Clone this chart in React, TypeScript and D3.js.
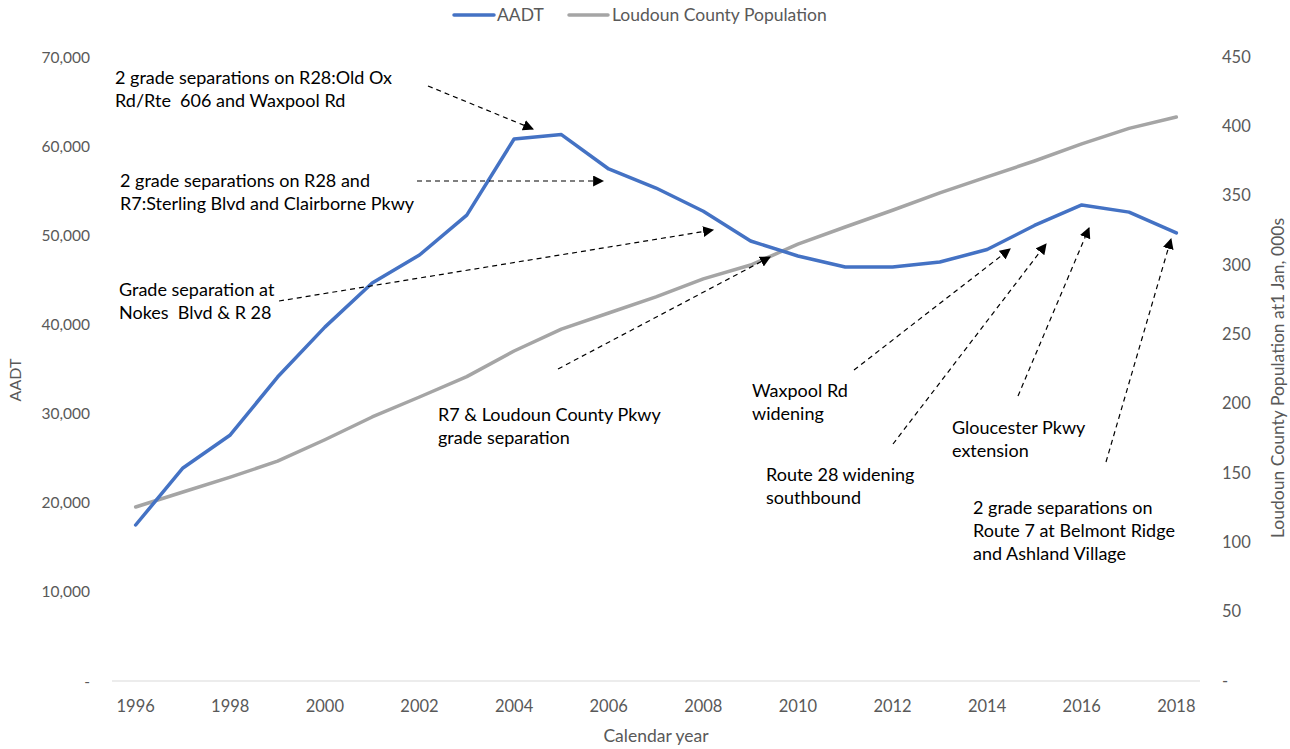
import React from "react";
import * as d3 from "d3";

const years = [1996,1997,1998,1999,2000,2001,2002,2003,2004,2005,2006,2007,2008,2009,2010,2011,2012,2013,2014,2015,2016,2017,2018];
const aadt = [17500,23900,27600,34100,39700,44650,47790,52270,60800,61300,57440,55300,52700,49360,47680,46440,46440,47000,48400,51100,53400,52600,50260];
const population = [125.5,136.3,147,158.5,174,190.4,204.8,219.5,238,253.8,265.4,277,290,300,315,327.4,339.5,352,363.5,375,387.3,398.5,406.7];
const leftTicks = [0,10000,20000,30000,40000,50000,60000,70000];
const rightTicks = [0,50,100,150,200,250,300,350,400,450];
const xTickYears = [1996,1998,2000,2002,2004,2006,2008,2010,2012,2014,2016,2018];

type Note = { lines: string[]; tx: number; ty: number; from: [number, number]; to: [number, number] };
const notes: Note[] = [
  { lines: ["2 grade separations on R28:Old Ox", "Rd/Rte  606 and Waxpool Rd"], tx: 115, ty: 84, from: [428, 86], to: [533, 129] },
  { lines: ["2 grade separations on R28 and", "R7:Sterling Blvd and Clairborne Pkwy"], tx: 120, ty: 187, from: [417, 181], to: [603, 181] },
  { lines: ["Grade separation at", "Nokes  Blvd & R 28"], tx: 119, ty: 296, from: [279, 301], to: [713, 230] },
  { lines: ["R7 & Loudoun County Pkwy", "grade separation"], tx: 438, ty: 421, from: [558, 369], to: [770, 257] },
  { lines: ["Waxpool Rd", "widening"], tx: 752, ty: 397, from: [854, 370], to: [1010, 249] },
  { lines: ["Route 28 widening", "southbound"], tx: 766, ty: 481, from: [893, 444], to: [1046, 244] },
  { lines: ["Gloucester Pkwy", "extension"], tx: 952, ty: 434, from: [1018, 396], to: [1089, 228] },
  { lines: ["2 grade separations on", "Route 7 at Belmont Ridge", "and Ashland Village"], tx: 973, ty: 514, from: [1106, 462], to: [1171, 239] },
];

const W = 1290, H = 749;
const plotLeft = 112, plotRight = 1200, plotTop = 57, plotBottom = 681;
const FONT = "Lato, 'Noto Sans', sans-serif";

export default function App() {
  const x = d3.scalePoint<number>().domain(years).range([plotLeft, plotRight]).padding(0.5);
  const yL = d3.scaleLinear().domain([0, 70000]).range([plotBottom, plotTop]);
  const yR = d3.scaleLinear().domain([0, 450]).range([plotBottom, plotTop]);
  const fmt = d3.format(",");

  const lineA = d3.line<number>().x((_, i) => x(years[i])!).y((d) => yL(d));
  const lineP = d3.line<number>().x((_, i) => x(years[i])!).y((d) => yR(d));

  return (
    <svg width={W} height={H} style={{ position: "absolute", left: 0, top: 0, background: "#fff" }} fontFamily={FONT}>
      <defs>
        <marker id="arrow" viewBox="0 0 10 10" refX="9" refY="5" markerWidth="11" markerHeight="11" markerUnits="userSpaceOnUse" orient="auto">
          <path d="M0,0 L10,5 L0,10 z" fill="#000" />
        </marker>
      </defs>
      {/* legend */}
      <g>
        <line x1={454} x2={494} y1={15} y2={15} stroke="#4472C4" strokeWidth={3.5} strokeLinecap="round" />
        <text x={497} y={21} fontSize={17.5} fill="#595959">AADT</text>
        <line x1={569} x2={608} y1={15} y2={15} stroke="#A5A5A5" strokeWidth={3.5} strokeLinecap="round" />
        <text x={612} y={21} fontSize={17.5} fill="#595959">Loudoun County Population</text>
      </g>
      {/* x axis line */}
      <line x1={plotLeft} x2={plotRight} y1={plotBottom} y2={plotBottom} stroke="#D9D9D9" strokeWidth={1} />
      {/* left ticks */}
      {leftTicks.map((t) => (
        <text key={"l" + t} x={90} y={yL(t) + 5.5} textAnchor="end" fontSize={15.5} fill="#595959">{t === 0 ? "-" : fmt(t)}</text>
      ))}
      {/* right ticks */}
      {rightTicks.map((t) => (
        <text key={"r" + t} x={1222} y={yR(t) + 5.5} textAnchor="start" fontSize={16.5} fill="#595959">{t === 0 ? "-" : String(t)}</text>
      ))}
      {/* x ticks */}
      {xTickYears.map((yv) => (
        <text key={"x" + yv} x={x(yv)!} y={712} textAnchor="middle" fontSize={16.5} fill="#595959">{yv}</text>
      ))}
      {/* axis titles */}
      <text x={656} y={742} textAnchor="middle" fontSize={17.5} fill="#595959">Calendar year</text>
      <text transform="translate(21,380) rotate(-90)" textAnchor="middle" fontSize={16} fill="#595959">AADT</text>
      <text transform="translate(1284,378) rotate(-90)" textAnchor="middle" fontSize={17.5} fill="#595959">Loudoun County Population at1 Jan, 000s</text>
      {/* series */}
      <path d={lineP(population) || ""} fill="none" stroke="#A5A5A5" strokeWidth={3.5} strokeLinejoin="round" strokeLinecap="round" />
      <path d={lineA(aadt) || ""} fill="none" stroke="#4472C4" strokeWidth={3.5} strokeLinejoin="round" strokeLinecap="round" />
      {/* annotations */}
      {notes.map((n, i) => (
        <g key={"n" + i}>
          <line x1={n.from[0]} y1={n.from[1]} x2={n.to[0]} y2={n.to[1]} stroke="#000" strokeWidth={1.2} strokeDasharray="5,4" markerEnd="url(#arrow)" />
          {n.lines.map((l, j) => (
            <text key={j} x={n.tx} y={n.ty + j * 23} fontSize={18} fill="#000" style={{ whiteSpace: "pre" }}>{l}</text>
          ))}
        </g>
      ))}
    </svg>
  );
}
